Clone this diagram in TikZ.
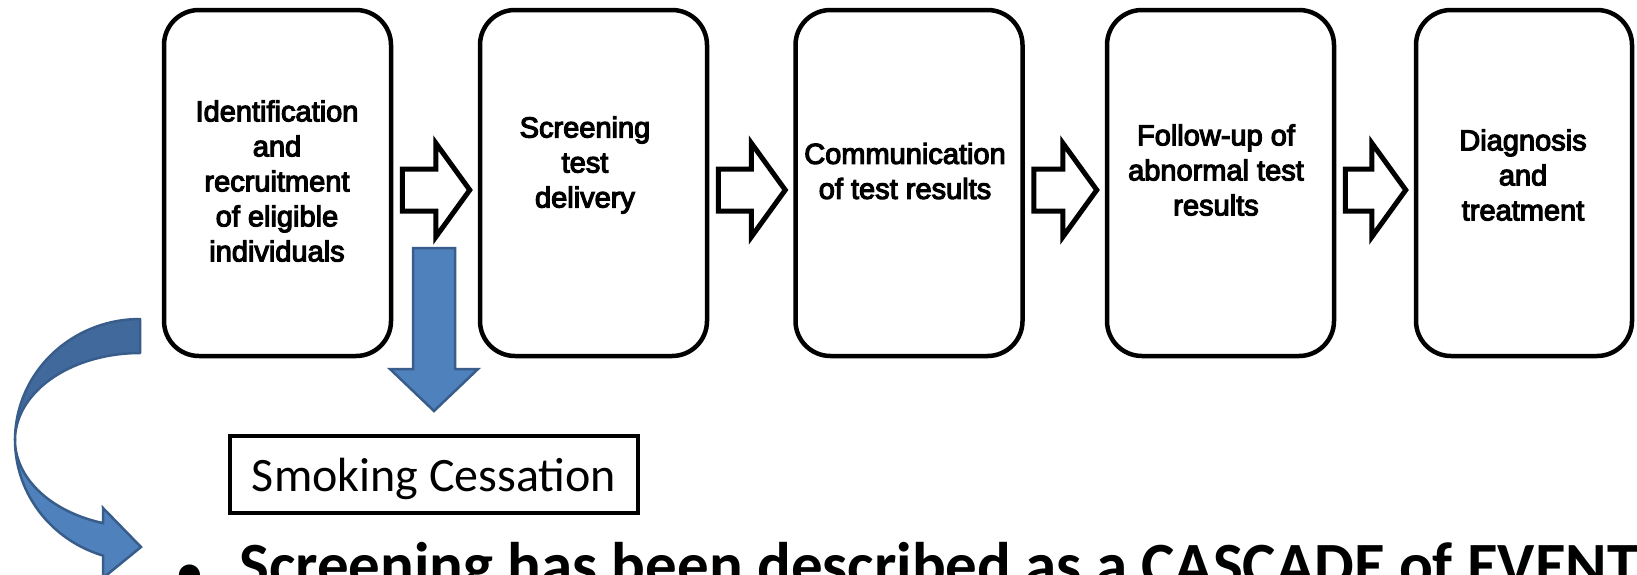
\documentclass[tikz,border=0pt]{standalone}
\usepackage{fontspec}
\setmainfont{Liberation Sans}
\newfontfamily\arialish{Liberation Sans}[FakeBold=4]
\newfontfamily\calibri{Carlito}
\usetikzlibrary{calc}
\definecolor{pblue}{HTML}{4F81BD}
\definecolor{pblueback}{HTML}{41699C}
\definecolor{pbluedark}{HTML}{385D8A}
\begin{document}
\begin{tikzpicture}[x=1pt,y=-1pt,
  procbox/.style={draw=black, line width=4.5pt, rounded corners=35pt, minimum width=227pt, minimum height=346pt, inner sep=0pt},
  boxtext/.style={align=center, font=\arialish\fontsize{29}{35}\selectfont, inner sep=0pt},
  hollow/.style={draw=black, line width=5pt, fill=white, line join=miter},
  blockblue/.style={fill=pblue, draw=pbluedark, line width=2.5pt, line join=miter},
  curvedback/.style={fill=pblueback, draw=pbluedark, line width=2.5pt, line join=round},
  curvedfront/.style={fill=pblue, draw=pbluedark, line width=2.5pt, line join=miter},
  scbox/.style={draw=black, line width=4pt, minimum width=408pt, minimum height=77pt, inner sep=0pt, font=\calibri\fontsize{48}{58}\selectfont, text height=33pt, text depth=0pt},
  bullettext/.style={anchor=base west, inner sep=0pt, font=\calibri\bfseries\fontsize{63}{75}\selectfont}
]
\useasboundingbox (0,0) rectangle (1637,574);
\fill[white] (0,0) rectangle (1637,574);
\clip (0,0) rectangle (1637,574);

% process boxes
\node[procbox] (b1) at (277.5,183) {};
\node[procbox] (b2) at (593.5,183) {};
\node[procbox] (b3) at (909,183) {};
\node[procbox] (b4) at (1220.5,183) {};
\node[procbox, minimum width=216pt] (b5) at (1524,183) {};

% box texts
\node[boxtext] (t1) at (277,181) {Identification\\and\\recruitment\\of eligible\\individuals};
\node[boxtext] (t2) at (585,165) {Screening\\test\\delivery};
\node[boxtext] (t3) at (905,171) {Communication\\of test results};
\node[boxtext] (t4) at (1216,170) {Follow-up of\\abnormal test\\results};
\node[boxtext] (t5) at (1523,175) {Diagnosis\\and\\treatment};

% hollow arrows between boxes
\foreach \a/\b in {b1/b2, b2/b3, b3/b4, b4/b5}{
  \draw[hollow] ($(\a.east)+(9,-14)$) -- ($(\b.west)+(-42,-14)$) -- ($(\b.west)+(-42,-40)$)
    -- ($(\b.west)+(-8,7)$) -- ($(\b.west)+(-42,54)$) -- ($(\b.west)+(-42,28)$)
    -- ($(\a.east)+(9,28)$) -- cycle;
}

% smoking cessation box
\node[scbox] (sc) at (434,474.5) {Smoking Cessation};

% blue down arrow to smoking cessation
\draw[blockblue] ($(sc.north)+(-21,-186)$) -- ($(sc.north)+(21,-186)$) -- ($(sc.north)+(21,-65)$)
  -- ($(sc.north)+(44,-65)$) -- ($(sc.north)+(0,-23)$) -- ($(sc.north)+(-44,-65)$)
  -- ($(sc.north)+(-21,-65)$) -- cycle;

% curved arrow (back part)
\draw[curvedback] plot[domain=270:180, samples=40] ({140+125*cos(\x)},{440+121*sin(\x)})
  -- plot[domain=180:270, samples=40] ({140+125*cos(\x)},{440+87*sin(\x)}) -- cycle;
% curved arrow (front part with head)
\draw[curvedfront] plot[domain=180:107.2, samples=40] ({140+125*cos(\x)},{440+121*sin(\x)})
  -- (103,578) -- (141,547) -- (103,508)
  -- plot[domain=107.2:180, samples=40] ({140+125*cos(\x)},{440+87*sin(\x)}) -- cycle;

% bullet text
\node[bullettext] (bt) at (190,586) {\makebox[0pt][c]{\raisebox{-3pt}{\fontsize{50}{50}\selectfont\textbullet}}\hspace{49pt}Screening has been described as a CASCADE of EVENTS};
\end{tikzpicture}
\end{document}
